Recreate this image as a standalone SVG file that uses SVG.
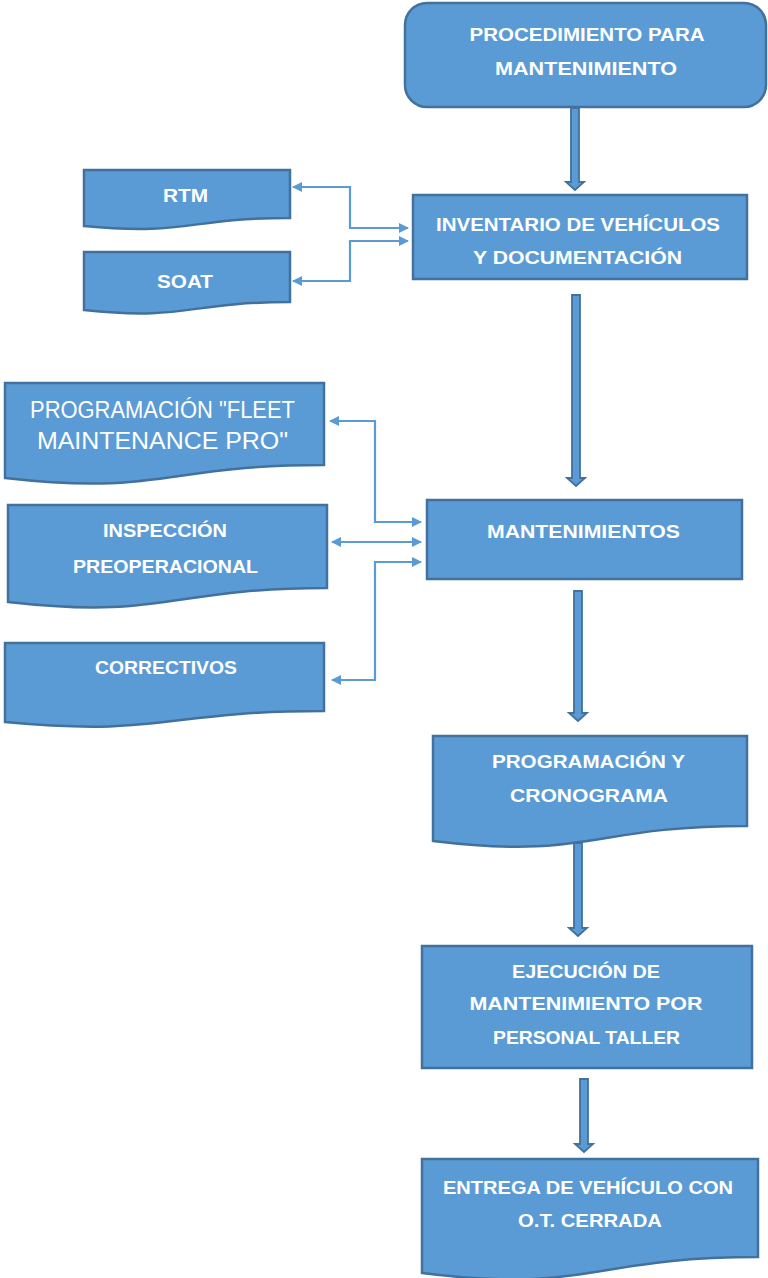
<svg xmlns="http://www.w3.org/2000/svg" width="768" height="1278" viewBox="0 0 768 1278">
<style>
.box{fill:#5b9bd5;stroke:#41719c;stroke-width:2.5}
.t{font-family:"Liberation Sans",Arial,sans-serif;font-weight:bold;font-size:19px;fill:#ffffff;text-anchor:middle}
.big{font-size:23px;font-weight:normal}
.con{fill:none;stroke:#5b9bd5;stroke-width:2.2;marker-start:url(#ah);marker-end:url(#ah)}
.blk{fill:#5b9bd5;stroke:#41719c;stroke-width:1.8;stroke-linejoin:miter}
</style>
<defs>
<marker id="ah" viewBox="0 0 10 10" markerWidth="10" markerHeight="10" refX="9" refY="5" orient="auto-start-reverse" markerUnits="userSpaceOnUse">
<path d="M0,0 L10,5 L0,10 Z" fill="#5b9bd5"/>
</marker>
</defs>
<rect width="768" height="1278" fill="#ffffff"/>

<g id="connectors">
<polygon class="blk" points="571,108 579,108 579,182 584,182 575,190 566,182 571,182"/>
<polygon class="blk" points="572,295 580,295 580,478 585,478 576,486 567,478 572,478"/>
<polygon class="blk" points="574,591 582,591 582,713 587,713 578,721 569,713 574,713"/>
<polygon class="blk" points="574,843 582,843 582,928 587,928 578,936 569,928 574,928"/>
<polygon class="blk" points="580,1079 588,1079 588,1144 593,1144 584,1152 575,1144 580,1144"/>
<path class="con" d="M293,187 H350 V228 H408"/>
<path class="con" d="M293,281 H350 V241 H408"/>
<path class="con" d="M330,421 H375 V522 H421"/>
<path class="con" d="M332,542 H421"/>
<path class="con" d="M332,680 H375 V562 H421"/>
</g>

<g id="n-procedimiento">
<rect class="box" x="405" y="3" width="361" height="104" rx="22" ry="22"/>
<text class="t" x="587" y="41" textLength="235" lengthAdjust="spacingAndGlyphs">PROCEDIMIENTO PARA</text>
<text class="t" x="586" y="75" textLength="182" lengthAdjust="spacingAndGlyphs">MANTENIMIENTO</text>
</g>

<g id="n-inventario">
<rect class="box" x="413" y="195" width="334" height="84"/>
<text class="t" x="578" y="231" textLength="284" lengthAdjust="spacingAndGlyphs">INVENTARIO DE VEHÍCULOS</text>
<text class="t" x="577.5" y="264" textLength="209" lengthAdjust="spacingAndGlyphs">Y DOCUMENTACIÓN</text>
</g>

<g id="n-rtm">
<path class="box" d="M84,170 H290 V218 C187,218 187,236 84,226 Z"/>
<text class="t" x="185.5" y="202" textLength="45" lengthAdjust="spacingAndGlyphs">RTM</text>
</g>

<g id="n-soat">
<path class="box" d="M84,252 H290 V302 C187,302 187,321 84,310 Z"/>
<text class="t" x="185" y="288" textLength="56" lengthAdjust="spacingAndGlyphs">SOAT</text>
</g>

<g id="n-fleet">
<path class="box" d="M5,383 H324 V465 C164,465 164,496 5,478 Z"/>
<text class="t big" x="162.5" y="418" textLength="265" lengthAdjust="spacingAndGlyphs">PROGRAMACIÓN "FLEET</text>
<text class="t big" x="162.5" y="449" textLength="251" lengthAdjust="spacingAndGlyphs">MAINTENANCE PRO"</text>
</g>

<g id="n-inspeccion">
<path class="box" d="M8,505 H327 V588 C167,588 167,620 8,602 Z"/>
<text class="t" x="165" y="537" textLength="124" lengthAdjust="spacingAndGlyphs">INSPECCIÓN</text>
<text class="t" x="165.5" y="573" textLength="185" lengthAdjust="spacingAndGlyphs">PREOPERACIONAL</text>
</g>

<g id="n-correctivos">
<path class="box" d="M5,643 H324 V711 C164,711 164,737 5,722 Z"/>
<text class="t" x="166" y="674" textLength="142" lengthAdjust="spacingAndGlyphs">CORRECTIVOS</text>
</g>

<g id="n-mantenimientos">
<rect class="box" x="427" y="500" width="315" height="79"/>
<text class="t" x="583.5" y="538" textLength="193" lengthAdjust="spacingAndGlyphs">MANTENIMIENTOS</text>
</g>

<g id="n-programacion">
<path class="box" d="M433,736 H747 V826 C590,826 590,860 433,841 Z"/>
<text class="t" x="588.5" y="768" textLength="193" lengthAdjust="spacingAndGlyphs">PROGRAMACIÓN Y</text>
<text class="t" x="589" y="802" textLength="158" lengthAdjust="spacingAndGlyphs">CRONOGRAMA</text>
</g>

<g id="n-ejecucion">
<rect class="box" x="422" y="946" width="330" height="122"/>
<text class="t" x="586" y="978" textLength="148" lengthAdjust="spacingAndGlyphs">EJECUCIÓN DE</text>
<text class="t" x="586" y="1010" textLength="233" lengthAdjust="spacingAndGlyphs">MANTENIMIENTO POR</text>
<text class="t" x="586.5" y="1044" textLength="187" lengthAdjust="spacingAndGlyphs">PERSONAL TALLER</text>
</g>

<g id="n-entrega">
<path class="box" d="M422,1159 H758 V1257 C590,1257 590,1294 422,1273 Z"/>
<text class="t" x="588" y="1194" textLength="290" lengthAdjust="spacingAndGlyphs">ENTREGA DE VEHÍCULO CON</text>
<text class="t" x="590" y="1227" textLength="144" lengthAdjust="spacingAndGlyphs">O.T. CERRADA</text>
</g>
</svg>
